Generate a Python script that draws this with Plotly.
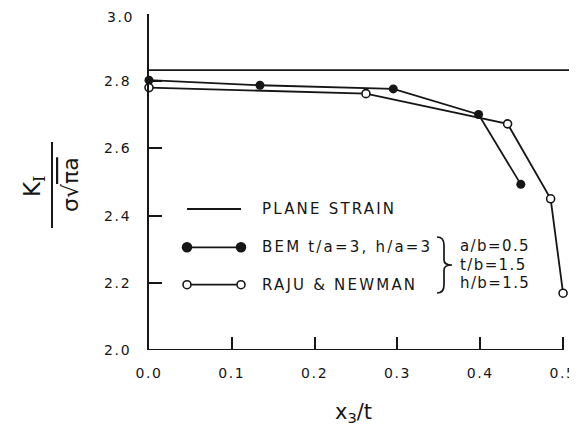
import plotly.graph_objects as go

# ---------------- data ----------------
bem_x = [0.0, 0.134, 0.295, 0.398, 0.449]
bem_y = [2.803, 2.788, 2.777, 2.701, 2.493]
raju_x = [0.0, 0.262, 0.433, 0.485, 0.500]
raju_y = [2.781, 2.763, 2.673, 2.450, 2.169]
plane_strain = 2.833

x_range = [0.0, 0.512]
y_range = [2.0, 3.0]
x_ticks = [0.0, 0.1, 0.2, 0.3, 0.4, 0.5]
x_ticklabels = ["0.0", "0.1", "0.2", "0.3", "0.4", "0.5"]
y_ticks = [2.0, 2.2, 2.4, 2.6, 2.8, 3.0]
y_ticklabels = ["2.0", "2.2", "2.4", "2.6", "2.8", "3.0"]

legend_labels = ["PLANE STRAIN", "BEM t/a=3, h/a=3", "RAJU &amp; NEWMAN"]
param_labels = ["a/b=0.5", "t/b=1.5", "h/b=1.5"]

# ---------------- layout geometry ----------------
# the page body has an 8px margin, so the figure starts at (8, 8) of the page
OFF = 8
PAGE_W, PAGE_H = 577, 428
W, H = PAGE_W - OFF, PAGE_H - OFF
PL, PR, PT, PB = 149, 573, 14, 350          # plot area in page pixels
ML, MT = PL - OFF, PT - OFF
MR, MB = W - (PR - OFF), H - (PB - OFF)
PW, PH = PR - PL, PB - PT
INK = "#161616"
FONT = "DejaVu Sans"


def px(xp):
    return (xp - PL) / PW


def py(yp):
    return (PB - yp) / PH


def spaced(t, s):
    return '<span style="letter-spacing:%spx">%s</span>' % (s, t)


fig = go.Figure()

fig.add_trace(go.Scatter(x=[x_range[0], x_range[1]], y=[plane_strain, plane_strain],
                         mode="lines", line=dict(color=INK, width=1.8),
                         showlegend=False, hoverinfo="skip"))
fig.add_trace(go.Scatter(x=bem_x, y=bem_y, mode="lines+markers",
                         line=dict(color=INK, width=1.8),
                         marker=dict(symbol="circle", size=9, color=INK),
                         showlegend=False, cliponaxis=False))
fig.add_trace(go.Scatter(x=raju_x, y=raju_y, mode="lines+markers",
                         line=dict(color=INK, width=1.8),
                         marker=dict(symbol="circle", size=8, color="white",
                                     line=dict(color=INK, width=1.6)),
                         showlegend=False, cliponaxis=False))

shapes = []
annotations = []

# x axis line ending at 0.5
shapes.append(dict(type="line", xref="x", yref="y", x0=x_ticks[0], x1=x_ticks[-1],
                   y0=y_range[0], y1=y_range[0], line=dict(color=INK, width=2), layer="above"))

# manual legend
leg_y = [209, 247.3, 284.7]
lx0, lx1 = 187, 241
for i, yy in enumerate(leg_y):
    shapes.append(dict(type="line", xref="paper", yref="paper", x0=px(lx0), x1=px(lx1),
                       y0=py(yy), y1=py(yy), line=dict(color=INK, width=1.8)))
    if i > 0:
        for cx in (lx0, lx1):
            r = 4.5 if i == 1 else 4
            shapes.append(dict(type="circle", xref="paper", yref="paper",
                               xsizemode="pixel", ysizemode="pixel",
                               xanchor=px(cx), yanchor=py(yy),
                               x0=-r, x1=r, y0=-r, y1=r,
                               fillcolor=INK if i == 1 else "white",
                               line=dict(color=INK, width=1.6)))
    annotations.append(dict(xref="paper", yref="paper", x=px(260), y=py(yy),
                            xanchor="left", yanchor="middle", showarrow=False,
                            text=spaced(legend_labels[i], 2.2),
                            font=dict(family=FONT, size=15, color=INK)))

# brace
bx0, bx1 = 437, 452
by0, bym, by1 = 237, 265, 293
path = (f"M {px(bx0)},{py(by0)} Q {px(bx0+7)},{py(by0)} {px(bx0+7)},{py(by0+8)} "
        f"L {px(bx0+7)},{py(bym-5)} Q {px(bx0+7)},{py(bym)} {px(bx1)},{py(bym)} "
        f"Q {px(bx0+7)},{py(bym)} {px(bx0+7)},{py(bym+5)} "
        f"L {px(bx0+7)},{py(by1-8)} Q {px(bx0+7)},{py(by1)} {px(bx0)},{py(by1)}")
shapes.append(dict(type="path", xref="paper", yref="paper", path=path,
                   line=dict(color=INK, width=1.7)))

for t, yy in zip(param_labels, [246, 264.7, 283]):
    annotations.append(dict(xref="paper", yref="paper", x=px(458), y=py(yy),
                            xanchor="left", yanchor="middle", showarrow=False,
                            text=spaced(t, 1.4),
                            font=dict(family=FONT, size=15, color=INK)))

# y axis title: K_I / (sigma sqrt(pi a))
annotations.append(dict(xref="paper", yref="paper", x=px(34), y=py(186),
                        xanchor="center", yanchor="middle", showarrow=False, textangle=-90,
                        text='K<sub><span style="font-family:DejaVu Serif">I</span></sub>',
                        font=dict(family=FONT, size=23, color=INK)))
shapes.append(dict(type="line", xref="paper", yref="paper", x0=px(52), x1=px(52),
                   y0=py(142), y1=py(228), line=dict(color=INK, width=2)))
annotations.append(dict(xref="paper", yref="paper", x=px(70), y=py(185),
                        xanchor="center", yanchor="middle", showarrow=False, textangle=-90,
                        text='σ√<span style="text-decoration:overline">πa</span>',
                        font=dict(family=FONT, size=22, color=INK)))

# x axis title
annotations.append(dict(xref="paper", yref="paper", x=px(353), y=py(413),
                        xanchor="center", yanchor="middle", showarrow=False,
                        text="x<sub>3</sub>/t", font=dict(family=FONT, size=21, color=INK)))

tickfont = dict(family=FONT, size=14, color=INK)

# the top y tick label is placed as an annotation so that its box stays inside the page
y_ticktext = [spaced(t, 1.6) for t in y_ticklabels[:-1]] + [""]
annotations.append(dict(xref="paper", yref="paper", x=px(PL - 14), y=1 + (MT - 0.5) / PH,
                        xanchor="right", yanchor="top", showarrow=False, borderpad=0,
                        text=spaced(y_ticklabels[-1], 1.6), font=tickfont))

fig.update_layout(
    width=W, height=H,
    margin=dict(l=ML, r=MR, t=MT, b=MB, pad=0, autoexpand=False),
    paper_bgcolor="white", plot_bgcolor="white",
    showlegend=False,
    shapes=shapes, annotations=annotations,
    xaxis=dict(range=x_range, tickvals=x_ticks, automargin=False,
               ticktext=[spaced(t, 1.6) for t in x_ticklabels],
               showline=False, zeroline=False, showgrid=False,
               ticks="inside", ticklen=13, tickwidth=2, tickcolor=INK,
               ticklabelstandoff=13, ticklabeloverflow="allow", tickfont=tickfont),
    yaxis=dict(range=y_range, tickvals=y_ticks, automargin=False,
               ticktext=y_ticktext,
               showline=True, linecolor=INK, linewidth=2, mirror=False,
               zeroline=False, showgrid=False,
               ticks="inside", ticklen=13, tickwidth=2, tickcolor=INK,
               ticklabelstandoff=13, ticklabeloverflow="allow", tickfont=tickfont),
)

fig.write_html("out.html")
